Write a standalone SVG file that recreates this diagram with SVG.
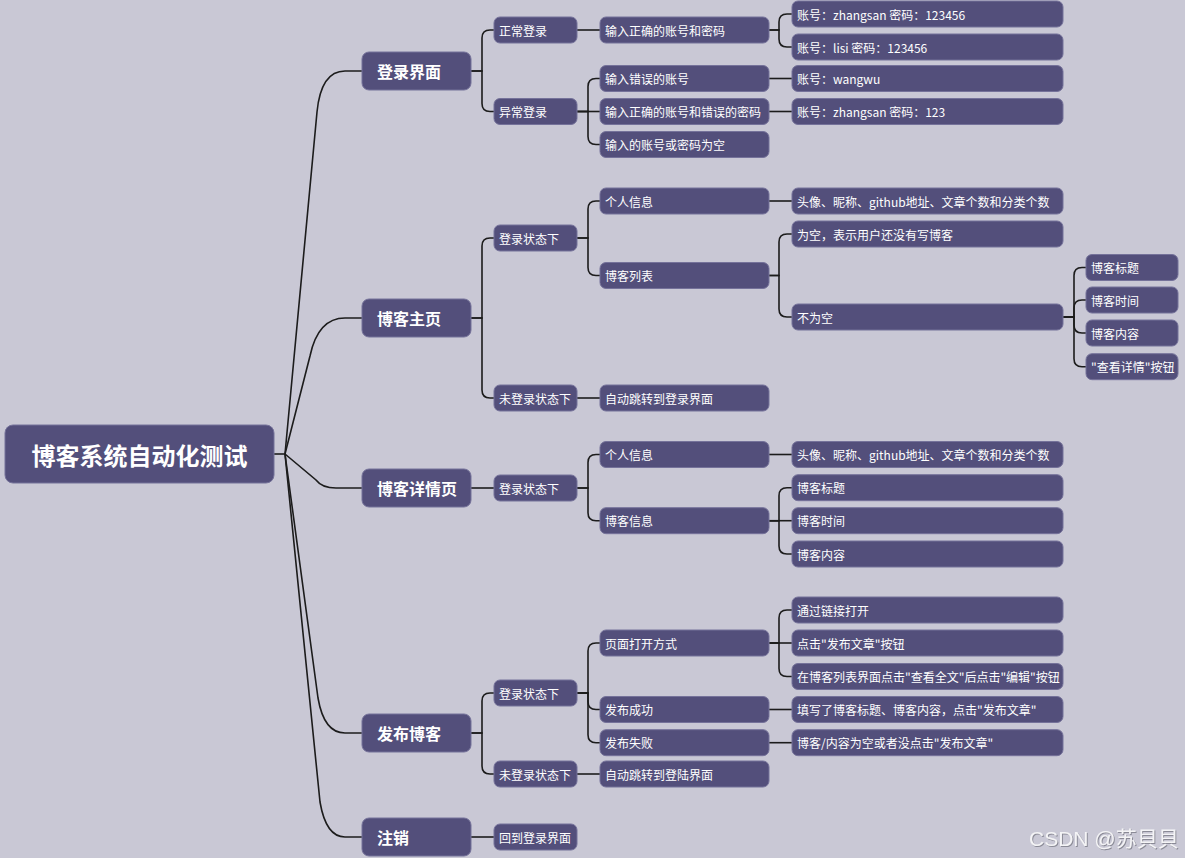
<svg xmlns="http://www.w3.org/2000/svg" width="1185" height="858" viewBox="0 0 1185 858">
<style>
.n rect{fill:#534f7b;stroke:#75729a;stroke-width:1}
.n text{fill:#ffffff;font-family:"Noto Sans CJK SC","Noto Sans",sans-serif;font-size:12px;dominant-baseline:central}
.l1 text{font-size:16px;font-weight:700}
.root text{font-size:24px;font-weight:700;text-anchor:middle}
.c path{fill:none;stroke:#1c1c1c;stroke-width:1.6}
.wm{fill:#f4f4f6;font-family:"Liberation Sans","Noto Sans CJK SC",sans-serif;font-size:21px}
</style>
<defs>
<filter id="sh" x="-10%" y="-30%" width="120%" height="160%"><feDropShadow dx="1" dy="1" stdDeviation="0.6" flood-color="#8a8a96"/></filter>
</defs>
<rect width="1185" height="858" fill="#c9c8d5"/>
<g id="connectors" class="c">
<path d="M274,454 H285"/>
<path d="M285,454 L317,112 Q321,71 345,71 H362"/>
<path d="M285,454 L310,356 Q318,318 345,318 H362"/>
<path d="M285,454 L316,480 Q322,488 336,488 H362"/>
<path d="M285,454 L318,698 Q324,733 345,733 H362"/>
<path d="M285,454 L320,802 Q326,837 345,837 H362"/>
<path d="M471,71 H482 V38 Q482,30 490,30 H494"/>
<path d="M471,71 H482 V103.5 Q482,111.5 490,111.5 H494"/>
<path d="M471,318 H482 V246 Q482,238 490,238 H494"/>
<path d="M471,318 H482 V390 Q482,398 490,398 H494"/>
<path d="M471,488 H494"/>
<path d="M471,733 H482 V701 Q482,693 490,693 H494"/>
<path d="M471,733 H482 V766 Q482,774 490,774 H494"/>
<path d="M471,837 H494"/>
<path d="M577,30 H600"/>
<path d="M577,111.5 H588 V86.5 Q588,78.5 596,78.5 H600"/>
<path d="M577,111.5 H600"/>
<path d="M577,111.5 H588 V136.5 Q588,144.5 596,144.5 H600"/>
<path d="M577,238 H588 V209 Q588,201 596,201 H600"/>
<path d="M577,238 H588 V267.5 Q588,275.5 596,275.5 H600"/>
<path d="M577,398 H600"/>
<path d="M577,488 H588 V462.5 Q588,454.5 596,454.5 H600"/>
<path d="M577,488 H588 V512.7 Q588,520.7 596,520.7 H600"/>
<path d="M577,693 H588 V651 Q588,643 596,643 H600"/>
<path d="M577,693 H588 V701.5 Q588,709.5 596,709.5 H600"/>
<path d="M577,693 H588 V734.7 Q588,742.7 596,742.7 H600"/>
<path d="M577,774 H600"/>
<path d="M769,30 H779 V22 Q779,14 787,14 H792"/>
<path d="M769,30 H779 V39 Q779,47 787,47 H792"/>
<path d="M769,78.5 H792"/>
<path d="M769,111.5 H792"/>
<path d="M769,201 H792"/>
<path d="M769,275.5 H779 V242 Q779,234 787,234 H792"/>
<path d="M769,275.5 H779 V309 Q779,317 787,317 H792"/>
<path d="M769,454.5 H792"/>
<path d="M769,520.7 H779 V495.7 Q779,487.7 787,487.7 H792"/>
<path d="M769,520.7 H792"/>
<path d="M769,520.7 H779 V546 Q779,554 787,554 H792"/>
<path d="M769,643 H779 V618 Q779,610 787,610 H792"/>
<path d="M769,643 H792"/>
<path d="M769,643 H779 V668.5 Q779,676.5 787,676.5 H792"/>
<path d="M769,709.5 H792"/>
<path d="M769,742.7 H792"/>
<path d="M1063,317 H1074 V275.5 Q1074,267.5 1082,267.5 H1086"/>
<path d="M1063,317 H1074 V308 Q1074,300 1082,300 H1086"/>
<path d="M1063,317 H1074 V325 Q1074,333 1082,333 H1086"/>
<path d="M1063,317 H1074 V358.7 Q1074,366.7 1082,366.7 H1086"/>
</g>
<g id="root" class="n root"><rect x="5" y="425" width="269" height="58" rx="8"/><text x="139.5" y="454">博客系统自动化测试</text></g>
<g id="l1-login" class="n l1"><rect x="362" y="52" width="109" height="38" rx="7"/><text x="377" y="71">登录界面</text></g>
<g id="l1-home" class="n l1"><rect x="362" y="299" width="109" height="38" rx="7"/><text x="377" y="318">博客主页</text></g>
<g id="l1-detail" class="n l1"><rect x="362" y="469" width="109" height="38" rx="7"/><text x="377" y="488">博客详情页</text></g>
<g id="l1-publish" class="n l1"><rect x="362" y="714" width="109" height="38" rx="7"/><text x="377" y="733">发布博客</text></g>
<g id="l1-logout" class="n l1"><rect x="362" y="818" width="109" height="38" rx="7"/><text x="377" y="837">注销</text></g>
<g id="l2-normal" class="n"><rect x="494" y="17" width="83" height="26" rx="6"/><text x="499" y="30">正常登录</text></g>
<g id="l2-abnormal" class="n"><rect x="494" y="98.5" width="83" height="26" rx="6"/><text x="499" y="111.5">异常登录</text></g>
<g id="l2-home-in" class="n"><rect x="494" y="225" width="83" height="26" rx="6"/><text x="499" y="238">登录状态下</text></g>
<g id="l2-home-out" class="n"><rect x="494" y="385" width="83" height="26" rx="6"/><text x="499" y="398">未登录状态下</text></g>
<g id="l2-detail-in" class="n"><rect x="494" y="475" width="83" height="26" rx="6"/><text x="499" y="488">登录状态下</text></g>
<g id="l2-pub-in" class="n"><rect x="494" y="680" width="83" height="26" rx="6"/><text x="499" y="693">登录状态下</text></g>
<g id="l2-pub-out" class="n"><rect x="494" y="761" width="83" height="26" rx="6"/><text x="499" y="774">未登录状态下</text></g>
<g id="l2-back" class="n"><rect x="494" y="824" width="83" height="26" rx="6"/><text x="499" y="837">回到登录界面</text></g>
<g id="l3-right" class="n"><rect x="600" y="17" width="169" height="26" rx="6"/><text x="605" y="30">输入正确的账号和密码</text></g>
<g id="l3-wronguser" class="n"><rect x="600" y="65.5" width="169" height="26" rx="6"/><text x="605" y="78.5">输入错误的账号</text></g>
<g id="l3-wrongpw" class="n"><rect x="600" y="98.5" width="169" height="26" rx="6"/><text x="605" y="111.5">输入正确的账号和错误的密码</text></g>
<g id="l3-empty" class="n"><rect x="600" y="131.5" width="169" height="26" rx="6"/><text x="605" y="144.5">输入的账号或密码为空</text></g>
<g id="l3-home-info" class="n"><rect x="600" y="188" width="169" height="26" rx="6"/><text x="605" y="201">个人信息</text></g>
<g id="l3-home-list" class="n"><rect x="600" y="262.5" width="169" height="26" rx="6"/><text x="605" y="275.5">博客列表</text></g>
<g id="l3-home-jump" class="n"><rect x="600" y="385" width="169" height="26" rx="6"/><text x="605" y="398">自动跳转到登录界面</text></g>
<g id="l3-detail-info" class="n"><rect x="600" y="441.5" width="169" height="26" rx="6"/><text x="605" y="454.5">个人信息</text></g>
<g id="l3-detail-blog" class="n"><rect x="600" y="507.7" width="169" height="26" rx="6"/><text x="605" y="520.7">博客信息</text></g>
<g id="l3-pub-open" class="n"><rect x="600" y="630" width="169" height="26" rx="6"/><text x="605" y="643">页面打开方式</text></g>
<g id="l3-pub-ok" class="n"><rect x="600" y="696.5" width="169" height="26" rx="6"/><text x="605" y="709.5">发布成功</text></g>
<g id="l3-pub-fail" class="n"><rect x="600" y="729.7" width="169" height="26" rx="6"/><text x="605" y="742.7">发布失败</text></g>
<g id="l3-pub-jump" class="n"><rect x="600" y="761" width="169" height="26" rx="6"/><text x="605" y="774">自动跳转到登陆界面</text></g>
<g id="l4-zs" class="n"><rect x="792" y="1" width="271" height="26" rx="6"/><text x="797" y="14">账号：zhangsan 密码：123456</text></g>
<g id="l4-lisi" class="n"><rect x="792" y="34" width="271" height="26" rx="6"/><text x="797" y="47">账号：lisi 密码：123456</text></g>
<g id="l4-ww" class="n"><rect x="792" y="65.5" width="271" height="26" rx="6"/><text x="797" y="78.5">账号：wangwu</text></g>
<g id="l4-zs123" class="n"><rect x="792" y="98.5" width="271" height="26" rx="6"/><text x="797" y="111.5">账号：zhangsan 密码：123</text></g>
<g id="l4-home-info" class="n"><rect x="792" y="188" width="271" height="26" rx="6"/><text x="797" y="201">头像、昵称、github地址、文章个数和分类个数</text></g>
<g id="l4-list-empty" class="n"><rect x="792" y="221" width="271" height="26" rx="6"/><text x="797" y="234">为空，表示用户还没有写博客</text></g>
<g id="l4-list-nonempty" class="n"><rect x="792" y="304" width="271" height="26" rx="6"/><text x="797" y="317">不为空</text></g>
<g id="l4-detail-info" class="n"><rect x="792" y="441.5" width="271" height="26" rx="6"/><text x="797" y="454.5">头像、昵称、github地址、文章个数和分类个数</text></g>
<g id="l4-detail-title" class="n"><rect x="792" y="474.7" width="271" height="26" rx="6"/><text x="797" y="487.7">博客标题</text></g>
<g id="l4-detail-time" class="n"><rect x="792" y="507.7" width="271" height="26" rx="6"/><text x="797" y="520.7">博客时间</text></g>
<g id="l4-detail-content" class="n"><rect x="792" y="541" width="271" height="26" rx="6"/><text x="797" y="554">博客内容</text></g>
<g id="l4-open-link" class="n"><rect x="792" y="597" width="271" height="26" rx="6"/><text x="797" y="610">通过链接打开</text></g>
<g id="l4-open-btn" class="n"><rect x="792" y="630" width="271" height="26" rx="6"/><text x="797" y="643">点击"发布文章"按钮</text></g>
<g id="l4-open-edit" class="n"><rect x="792" y="663.5" width="271" height="26" rx="6"/><text x="797" y="676.5">在博客列表界面点击"查看全文"后点击"编辑"按钮</text></g>
<g id="l4-pub-ok" class="n"><rect x="792" y="696.5" width="271" height="26" rx="6"/><text x="797" y="709.5">填写了博客标题、博客内容，点击"发布文章"</text></g>
<g id="l4-pub-fail" class="n"><rect x="792" y="729.7" width="271" height="26" rx="6"/><text x="797" y="742.7">博客/内容为空或者没点击"发布文章"</text></g>
<g id="l5-title" class="n"><rect x="1086" y="254.5" width="92" height="26" rx="6"/><text x="1091" y="267.5">博客标题</text></g>
<g id="l5-time" class="n"><rect x="1086" y="287" width="92" height="26" rx="6"/><text x="1091" y="300">博客时间</text></g>
<g id="l5-content" class="n"><rect x="1086" y="320" width="92" height="26" rx="6"/><text x="1091" y="333">博客内容</text></g>
<g id="l5-detailbtn" class="n"><rect x="1086" y="353.7" width="92" height="26" rx="6"/><text x="1091" y="366.7">"查看详情"按钮</text></g>
<text class="wm" x="1029" y="846" filter="url(#sh)">CSDN @苏貝貝</text>
</svg>
